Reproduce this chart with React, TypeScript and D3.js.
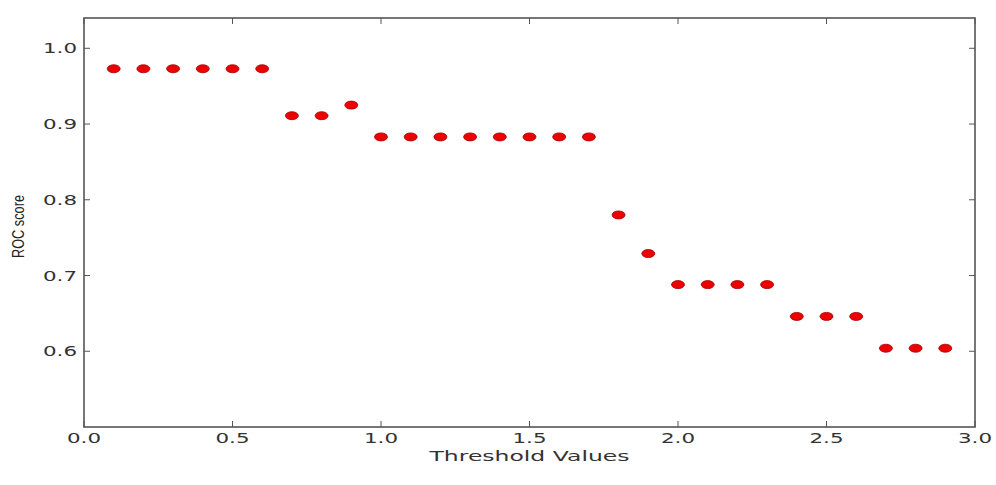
import React, { useEffect, useRef } from 'react';
import * as d3 from 'd3';

// threshold sweep and the ROC score measured at each threshold
const thresholds = [
  0.1, 0.2, 0.3, 0.4, 0.5, 0.6, 0.7, 0.8, 0.9, 1.0, 1.1, 1.2, 1.3, 1.4, 1.5,
  1.6, 1.7, 1.8, 1.9, 2.0, 2.1, 2.2, 2.3, 2.4, 2.5, 2.6, 2.7, 2.8, 2.9,
];
const rocScores = [
  0.973, 0.973, 0.973, 0.973, 0.973, 0.973, 0.911, 0.911, 0.925, 0.883, 0.883,
  0.883, 0.883, 0.883, 0.883, 0.883, 0.883, 0.78, 0.729, 0.688, 0.688, 0.688,
  0.688, 0.646, 0.646, 0.646, 0.604, 0.604, 0.604,
];
const xTicks = [0.0, 0.5, 1.0, 1.5, 2.0, 2.5, 3.0];
const yTicks = [0.6, 0.7, 0.8, 0.9, 1.0];

const W = 996, H = 485;
const margin = { top: 18, right: 21, bottom: 58, left: 84 };

const App = () => {
  const ref = useRef<SVGSVGElement>(null);

  useEffect(() => {
    if (!ref.current) return;
    const svg = d3.select(ref.current);
    svg.selectAll('*').remove();

    const iw = W - margin.left - margin.right;
    const ih = H - margin.top - margin.bottom;

    const x = d3.scaleLinear().domain([0, 3]).range([0, iw]);
    const y = d3.scaleLinear().domain([0.5, 1.04]).range([ih, 0]);

    const g = svg.append('g').attr('transform', `translate(${margin.left},${margin.top})`);
    const axisColor = '#555';
    const font = 'DejaVu Sans, sans-serif';

    // inward ticks on all four sides, matplotlib classic style
    const tickLen = 6;
    xTicks.forEach(t => {
      const px = x(t);
      g.append('line').attr('x1', px).attr('x2', px).attr('y1', ih).attr('y2', ih - tickLen)
        .attr('stroke', axisColor).attr('stroke-width', 1);
      g.append('line').attr('x1', px).attr('x2', px).attr('y1', 0).attr('y2', tickLen)
        .attr('stroke', axisColor).attr('stroke-width', 1);
      g.append('text').attr('x', px).attr('y', ih + 16)
        .attr('text-anchor', 'middle')
        .attr('font-family', font).attr('font-size', 14).attr('fill', '#333')
        .attr('textLength', 34).attr('lengthAdjust', 'spacingAndGlyphs')
        .text(d3.format('.1f')(t));
    });
    yTicks.forEach(t => {
      const py = y(t);
      g.append('line').attr('x1', 0).attr('x2', tickLen).attr('y1', py).attr('y2', py)
        .attr('stroke', axisColor).attr('stroke-width', 1);
      g.append('line').attr('x1', iw).attr('x2', iw - tickLen).attr('y1', py).attr('y2', py)
        .attr('stroke', axisColor).attr('stroke-width', 1);
      g.append('text').attr('x', -41).attr('y', py + 5)
        .attr('font-family', font).attr('font-size', 14).attr('fill', '#333')
        .attr('textLength', 34).attr('lengthAdjust', 'spacingAndGlyphs')
        .text(d3.format('.1f')(t));
    });

    // frame
    g.append('rect').attr('x', 0).attr('y', 0).attr('width', iw).attr('height', ih)
      .attr('fill', 'none').attr('stroke', axisColor).attr('stroke-width', 1.6);

    // points
    g.selectAll('ellipse.pt')
      .data(thresholds.map((t, i) => ({ t, v: rocScores[i] })))
      .join('ellipse')
      .attr('class', 'pt')
      .attr('cx', d => x(d.t))
      .attr('cy', d => y(d.v))
      .attr('rx', 6.5)
      .attr('ry', 4)
      .attr('fill', '#ee0000')
      .attr('stroke', '#a00000')
      .attr('stroke-width', 0.8);

    // axis titles
    g.append('text').attr('x', iw / 2).attr('y', ih + 34)
      .attr('text-anchor', 'middle')
      .attr('font-family', font).attr('font-size', 14).attr('fill', '#333')
      .attr('textLength', 200).attr('lengthAdjust', 'spacingAndGlyphs')
      .text('Threshold Values');

    g.append('text')
      .attr('transform', `translate(${-60},${ih / 2 + 4}) rotate(-90)`)
      .attr('text-anchor', 'middle')
      .attr('font-family', 'Liberation Sans Narrow, Liberation Sans, sans-serif')
      .attr('font-size', 16).attr('fill', '#222')
      .attr('textLength', 63).attr('lengthAdjust', 'spacingAndGlyphs')
      .text('ROC score');
  }, []);

  return (
    <svg
      ref={ref}
      width={W}
      height={H}
      style={{ position: 'absolute', left: 0, top: 0, background: '#fff' }}
    />
  );
};

export default App;
